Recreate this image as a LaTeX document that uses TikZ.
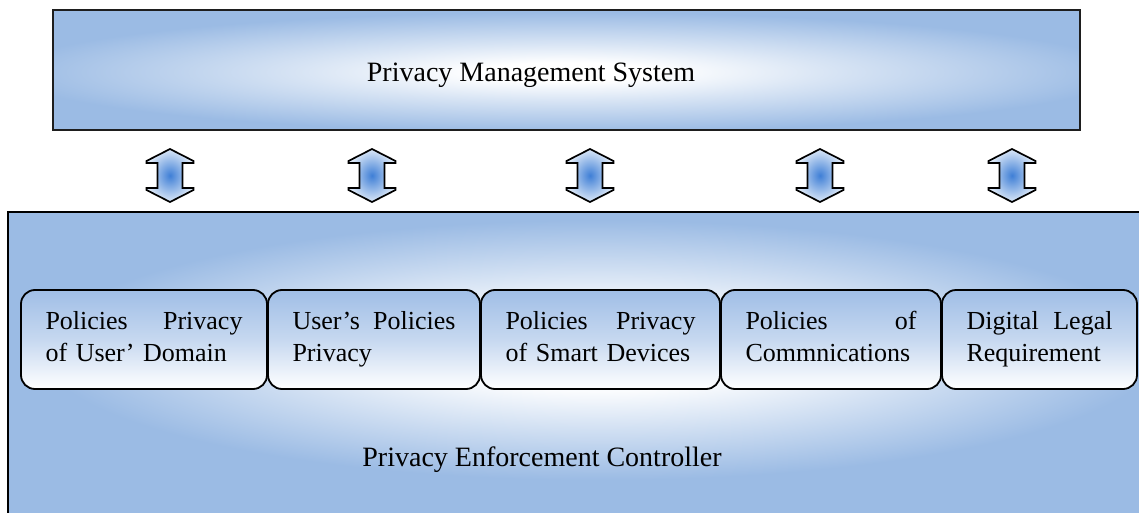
\documentclass[tikz,border=0pt]{standalone}
\usepackage{fontspec}
\setmainfont{Liberation Serif}

\definecolor{panel}{HTML}{9BBBE4}
\definecolor{tiletop}{HTML}{A0BEE6}
\definecolor{arrowcore}{HTML}{3F7FD6}
\definecolor{arrowrim}{HTML}{DCE8F7}
\definecolor{edge}{HTML}{1E1E1E}

% soft white glows, bright in the middle, reaching the panel colour at 25bp
\pgfdeclareradialshading{topglow}{\pgfpoint{0bp}{0bp}}{%
  color(0bp)=(white); color(4bp)=(white); color(12bp)=(panel!40!white);
  color(25bp)=(panel); color(50bp)=(panel)}
\pgfdeclareradialshading{baseglow}{\pgfpoint{0bp}{0bp}}{%
  color(0bp)=(white); color(8bp)=(white!95!panel); color(16bp)=(panel!50!white);
  color(25bp)=(panel); color(50bp)=(panel)}

\tikzset{
  bigtext/.style={font=\fontsize{28}{34}\selectfont, inner sep=0pt},
  panelbox/.style={fill=panel, draw=none, inner sep=0pt},
  tile/.style={draw=black, line width=1.8pt, rounded corners=14pt,
    top color=tiletop, bottom color=white, middle color=tiletop!60!white,
    inner ysep=0pt, inner xsep=24.5pt, minimum height=99pt, align=left,
    font=\fontsize{26}{32}\selectfont,
    execute at begin node=\strut, execute at end node=\strut},
  updown/.pic={
    \shadedraw[draw=black, line width=1.7pt, line join=miter,
      inner color=arrowcore, outer color=arrowrim]
      (0,-26.5) -- (23.5,-14.5) -- (23.5,-12.5) -- (12.5,-12.5) -- (12.5,12.5)
      -- (23.5,12.5) -- (23.5,14.5) -- (0,26.5) -- (-23.5,14.5) -- (-23.5,12.5)
      -- (-12.5,12.5) -- (-12.5,-12.5) -- (-23.5,-12.5) -- (-23.5,-14.5) -- cycle;
  }
}

\begin{document}
\begin{tikzpicture}[x=1pt, y=-1pt]
\useasboundingbox (0,0) rectangle (1139,513);
\clip (0,0) rectangle (1139,513);

% management layer
\node[panelbox, minimum width=1027pt, minimum height=120pt] (pms) at (566.5,70) {};
\begin{scope}
  \clip (pms.north west) rectangle (pms.south east);
  \begin{scope}[shift={(566,72)}, xscale=560/25.09, yscale=60/25.09]
    \pgflowlevelsynccm
    \pgfuseshading{topglow}
  \end{scope}
\end{scope}
\draw[draw=edge, line width=1.7pt] (pms.north west) rectangle (pms.south east);
\node[bigtext, anchor=base] (pmslabel) at (531,82) {Privacy Management System};

% links between the two layers
\foreach \ax in {170,372,590,820,1012}
  \pic at (\ax,175.5) {updown};

% enforcement layer
\node[panelbox, minimum width=1142pt, minimum height=318pt] (pec) at (579,371) {};
\begin{scope}
  \clip (pec.north west) rectangle (pec.south east);
  \begin{scope}[shift={(600,350)}, xscale=560/25.09, yscale=130/25.09]
    \pgflowlevelsynccm
    \pgfuseshading{baseglow}
  \end{scope}
\end{scope}
\draw[draw=black, line width=2.3pt] (pec.north west) rectangle (pec.south east);
\node[bigtext, anchor=base] (peclabel) at (542,466) {Privacy Enforcement Controller};

% policy tiles
\node[tile, text width=197pt] (t1) at (144,339.5) {Policies\hfill Privacy\\of User’ Domain};
\node[tile, text width=163pt] (t2) at (374,339.5) {User’s\hfill Policies\\Privacy};
\node[tile, text width=190pt] (t3) at (600.5,339.5) {Policies\hfill Privacy\\of Smart Devices};
\node[tile, text width=171pt] (t4) at (831,339.5) {Policies\hfill of\\Commnications};
\node[tile, text width=146pt] (t5) at (1039.5,339.5) {Digital\hfill Legal\\Requirement};
\end{tikzpicture}
\end{document}
